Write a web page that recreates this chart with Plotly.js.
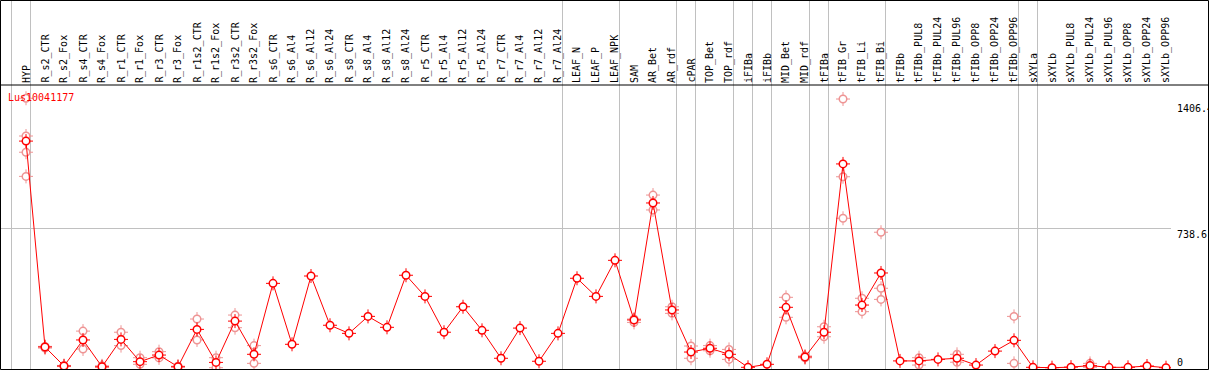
<!DOCTYPE html>
<html>
<head>
<meta charset="utf-8">
<script src="https://cdn.plot.ly/plotly-3.0.1.min.js"></script>
<style>
html,body{margin:0;padding:0;background:#fff;}
#chart{width:1209px;height:370px;}
</style>
</head>
<body>
<div id="chart"></div>
<script>
const N = null;
const geneId = "Lus10041177";

const categories = [
  "HYP","R_s2_CTR","R_s2_Fox","R_s4_CTR","R_s4_Fox","R_r1_CTR","R_r1_Fox","R_r3_CTR","R_r3_Fox",
  "R_r1s2_CTR","R_r1s2_Fox","R_r3s2_CTR","R_r3s2_Fox","R_s6_CTR","R_s6_Al4","R_s6_Al12","R_s6_Al24",
  "R_s8_CTR","R_s8_Al4","R_s8_Al12","R_s8_Al24","R_r5_CTR","R_r5_Al4","R_r5_Al12","R_r5_Al24",
  "R_r7_CTR","R_r7_Al4","R_r7_Al12","R_r7_Al24","LEAF_N","LEAF_P","LEAF_NPK","SAM","AR_Bet","AR_rdf",
  "cPAR","TOP_Bet","TOP_rdf","iFIBa","iFIBb","MID_Bet","MID_rdf","tFIBa","tFIB_Gr","tFIB_Li","tFIB_Bi",
  "tFIBb","tFIBb_PUL8","tFIBb_PUL24","tFIBb_PUL96","tFIBb_OPP8","tFIBb_OPP24","tFIBb_OPP96",
  "sXYLa","sXYLb","sXYLb_PUL8","sXYLb_PUL24","sXYLb_PUL96","sXYLb_OPP8","sXYLb_OPP24","sXYLb_OPP96"
];

const means = [
  1201,110,9,147,5,150,32,67,5,
  203,28,247,71,447,124,486,225,
  182,272,214,490,378,188,323,198,
  50,210,34,182,474,378,569,253,873,306,
  83,103,71,2,18,320,57,188,1080,332,502,
  36,36,44,50,14,88,145,
  2,0,3,11,2,2,9,0
];

const rep1 = [
  1428,113,12,194,10,188,53,85,8,
  258,53,279,117,N,N,N,N,
  N,N,N,N,N,N,N,N,
  N,N,N,N,N,N,N,258,915,323,
  115,117,97,N,N,373,62,217,1424,368,718,
  N,53,N,71,N,N,272,
  N,N,N,23,N,N,N,N
];
const rep2 = [
  1228,104,6,99,2,117,18,52,3,
  147,0,212,23,N,N,N,N,
  N,N,N,N,N,N,N,N,
  N,N,N,N,N,N,N,240,836,288,
  50,90,44,N,N,267,52,164,1012,297,421,
  N,14,N,29,N,N,23,
  N,N,N,2,N,N,N,N
];
const rep3 = [
  1142,N,N,N,N,N,N,N,N,
  N,N,N,N,N,N,N,N,
  N,N,N,N,N,N,N,N,
  N,N,N,N,N,N,N,N,N,N,
  N,N,N,N,N,N,N,N,792,N,362,
  N,N,N,N,N,N,N,
  N,N,N,N,N,N,N,N
];
const rep4 = [
  1014,N,N,N,N,N,N,N,N,
  N,N,N,N,N,N,N,N,
  N,N,N,N,N,N,N,N,
  N,N,N,N,N,N,N,N,N,N,
  N,N,N,N,N,N,N,N,N,N,N,
  N,N,N,N,N,N,N,
  N,N,N,N,N,N,N,N
];

// index of the last sample in each group (separator drawn after it)
const groupEnds = [-1,0,28,31,34,35,37,38,39,41,42,45,52,53,60];
const yTickVals = [0, 738.6, 1406.4];
const yTickText = ["0", "738.6", "1406.4"];

// ---- layout geometry ----
const W = 1209, H = 370;
const plotW = 1171;
const step = 19, firstPx = 26;
const xRange = [-firstPx / step, (plotW - firstPx) / step];
const zeroPx = 367.7, pxPerUnit = 0.18868;
const yRange = [-(H - zeroPx) / pxPerUnit, zeroPx / pxPerUnit];
const sepY = 1 - 85 / H;

const idx = categories.map((c, i) => i);
const repX = [], repY = [];
[rep1, rep2, rep3, rep4].forEach(r => r.forEach((v, i) => { if (v !== null) { repX.push(i); repY.push(v); } }));

const RED = "#ff0000", PINK = "#ee9494";
const mono = "DejaVu Sans Mono, monospace";

const traces = [
  {x: repX, y: repY, type: "scatter", mode: "markers", hoverinfo: "skip",
   marker: {symbol: "cross-thin-open", size: 10, color: PINK, line: {color: PINK, width: 1}}},
  {x: repX, y: repY, type: "scatter", mode: "markers", hoverinfo: "skip",
   marker: {symbol: "circle", size: 7.5, color: "#ffffff", line: {color: PINK, width: 1.5}}},
  {x: idx, y: means, type: "scatter", mode: "lines", hoverinfo: "skip",
   line: {color: RED, width: 1}},
  {x: idx, y: means, type: "scatter", mode: "markers", hoverinfo: "skip",
   marker: {symbol: "cross-thin-open", size: 10, color: RED, line: {color: RED, width: 1}}},
  {x: idx, y: means, type: "scatter", mode: "markers", hoverinfo: "skip",
   marker: {symbol: "circle", size: 7.5, color: "#ffffff", line: {color: RED, width: 1.5}}}
];

const annotations = [];
categories.forEach((c, i) => {
  annotations.push({x: i, xref: "x", y: 1 - 83 / H, yref: "paper", text: c, showarrow: false,
    textangle: -90, xanchor: "center", yanchor: "bottom", borderpad: 0, borderwidth: 0,
    font: {family: mono, size: 10, color: "#000"}});
});
annotations.push({x: 8 / plotW, xref: "paper", y: 1 - 97 / H, yref: "paper", text: geneId,
  showarrow: false, xanchor: "left", yanchor: "middle", borderpad: 0, borderwidth: 0,
  font: {family: mono, size: 10, color: RED}});
yTickVals.forEach((v, k) => {
  annotations.push({x: 1177 / plotW, xref: "paper", y: v, yref: "y", text: yTickText[k],
    showarrow: false, xanchor: "left", yanchor: v === 0 ? "bottom" : "top",
    yshift: v === 0 ? 0 : -1, borderpad: 0, borderwidth: 0,
    font: {family: mono, size: 10, color: "#000"}});
});

const shapes = [
  {type: "line", xref: "paper", yref: "paper", x0: 0, x1: W / plotW, y0: sepY, y1: sepY,
   line: {color: "#000", width: 1}},
  {type: "rect", xref: "paper", yref: "paper", x0: 0.5 / plotW, x1: (W - 0.5) / plotW,
   y0: 0.5 / H, y1: 1 - 0.5 / H, line: {color: "#000", width: 1}, fillcolor: "rgba(0,0,0,0)"}
];

const layout = {
  width: W, height: H,
  margin: {l: 0, r: W - plotW, t: 0, b: 0, pad: 0},
  paper_bgcolor: "#fff", plot_bgcolor: "#fff",
  showlegend: false, hovermode: false,
  xaxis: {type: "linear", range: xRange, tickvals: groupEnds.map(g => g + 0.226),
    showticklabels: false, ticks: "", showgrid: true, gridcolor: "#c0c0c0", gridwidth: 1,
    zeroline: false, showline: false, fixedrange: true},
  yaxis: {type: "linear", range: yRange, tickvals: [yTickVals[1]], showticklabels: false,
    ticks: "", showgrid: true, gridcolor: "#c0c0c0", gridwidth: 1, zeroline: false,
    showline: false, fixedrange: true},
  annotations: annotations,
  shapes: shapes
};

Plotly.newPlot("chart", traces, layout, {staticPlot: true, displayModeBar: false});
</script>
</body>
</html>
